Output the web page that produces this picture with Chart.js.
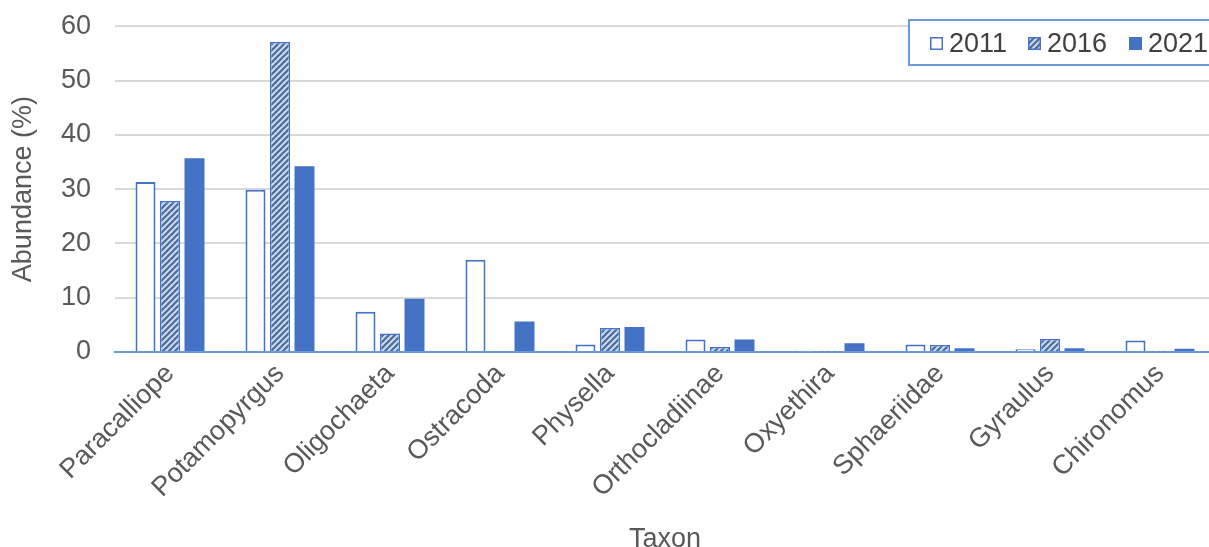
<!DOCTYPE html>
<html>
<head>
<meta charset="utf-8">
<script src="https://cdn.jsdelivr.net/npm/chart.js@4.4.1/dist/chart.umd.min.js"></script>
<style>
  html, body { margin: 0; padding: 0; background: #ffffff; overflow: hidden; }
  #wrap { position: relative; width: 1216px; height: 547px; overflow: hidden; }
  #chart { position: absolute; left: 0; top: -14px; }
</style>
</head>
<body>
<div id="wrap"><canvas id="chart" width="1216" height="561"></canvas></div>
<script>
// Taxa on the x axis
const taxa = ['Paracalliope', 'Potamopyrgus', 'Oligochaeta', 'Ostracoda', 'Physella',
              'Orthocladiinae', 'Oxyethira', 'Sphaeriidae', 'Gyraulus', 'Chironomus'];

// Relative abundance (%) per survey year
const years = ['2011', '2016', '2021'];
const abund2011 = [31.3, 29.9, 7.4, 17.0, 1.4, 2.3, 0.1, 1.4, 0.5, 2.1];
const abund2016 = [27.8, 57.1, 3.4, 0.0, 4.4, 0.9, 0.1, 1.3, 2.4, 0.1];
const abund2021 = [35.7, 34.2, 9.8, 5.6, 4.6, 2.3, 1.6, 0.7, 0.7, 0.6];

// Y axis ticks
const yTicks = [0, 10, 20, 30, 40, 50, 60];

const BLUE = '#4472c4';
const FONT = "'Liberation Sans', Arial, sans-serif";
const FSIZE = 27;
const TEXT = '#595959';

// Diagonal hatch used for the 2016 series
function makeHatch() {
  const c = document.createElement('canvas');
  c.width = 6; c.height = 6;
  const g = c.getContext('2d');
  g.fillStyle = '#d3e2f3';
  g.fillRect(0, 0, 6, 6);
  g.strokeStyle = '#50709f';
  g.lineWidth = 2.3;
  g.beginPath();
  g.moveTo(-1, 7); g.lineTo(7, -1);
  g.moveTo(-4, 4); g.lineTo(4, -4);
  g.moveTo(2, 10); g.lineTo(10, 2);
  g.stroke();
  return g.createPattern(c, 'repeat');
}
const hatch = makeHatch();

const seriesStyle = [
  { backgroundColor: '#ffffff', borderColor: BLUE, borderWidth: 2 },
  { backgroundColor: hatch, borderColor: BLUE, borderWidth: 1.5 },
  { backgroundColor: BLUE, borderColor: BLUE, borderWidth: 0 }
];
const seriesData = [abund2011, abund2016, abund2021];

// Boxed legend drawn inside the plot, top right
const boxLegend = {
  id: 'boxLegend',
  afterDraw(chart) {
    const ctx = chart.ctx;
    ctx.save();
    const x0 = 909, y0 = 34, x1 = 1230, y1 = 79;
    ctx.fillStyle = '#ffffff';
    ctx.fillRect(x0, y0, x1 - x0, y1 - y0);
    ctx.strokeStyle = '#6a9bd8';
    ctx.lineWidth = 2;
    ctx.strokeRect(x0, y0, x1 - x0, y1 - y0);
    const itemX = [930, 1028, 1129];
    const cy = 57.5;
    ctx.font = FSIZE + 'px ' + FONT;
    ctx.textBaseline = 'middle';
    ctx.textAlign = 'left';
    chart.data.datasets.forEach((ds, i) => {
      const sx = itemX[i];
      ctx.fillStyle = ds.backgroundColor;
      ctx.fillRect(sx, cy - 6.5, 13, 13);
      if (ds.borderWidth) {
        ctx.strokeStyle = ds.borderColor;
        ctx.lineWidth = 1.5;
        ctx.strokeRect(sx + 0.75, cy - 5.75, 11.5, 11.5);
      }
      ctx.fillStyle = '#404040';
      ctx.fillText(ds.label, sx + 19, cy + 1);
    });
    ctx.restore();
  }
};

new Chart(document.getElementById('chart'), {
  type: 'bar',
  data: {
    labels: taxa,
    datasets: years.map((y, i) => Object.assign({
      label: y,
      data: seriesData[i],
      categoryPercentage: 0.668,
      barPercentage: 0.816,
      borderSkipped: 'bottom'
    }, seriesStyle[i]))
  },
  options: {
    responsive: false,
    animation: false,
    events: [],
    layout: { padding: { top: 12, right: 1, bottom: 0, left: 0 } },
    plugins: {
      legend: { display: false },
      tooltip: { enabled: false },
      title: { display: false }
    },
    scales: {
      x: {
        grid: { display: false, drawTicks: false },
        border: { display: true, color: '#6a9bd8', width: 2 },
        ticks: {
          color: TEXT,
          font: { family: FONT, size: FSIZE },
          minRotation: 45,
          maxRotation: 45,
          padding: 6,
          autoSkip: false
        },
        title: {
          display: true,
          text: 'Taxon',
          color: TEXT,
          font: { family: FONT, size: FSIZE },
          padding: { top: 0, bottom: -9 }
        },
        afterFit(scale) { scale.height = 195; }
      },
      y: {
        min: 0,
        max: 60,
        afterBuildTicks(scale) { scale.ticks = yTicks.map(v => ({ value: v })); },
        grid: { color: '#d9d9d9', lineWidth: 2, drawTicks: false },
        border: { display: false },
        ticks: {
          color: TEXT,
          font: { family: FONT, size: FSIZE },
          padding: 24
        },
        title: {
          display: true,
          text: 'Abundance (%)',
          color: TEXT,
          font: { family: FONT, size: FSIZE },
          padding: { top: 7, bottom: 0 }
        },
        afterFit(scale) { scale.width = 115; }
      }
    }
  },
  plugins: [boxLegend]
});
</script>
</body>
</html>
